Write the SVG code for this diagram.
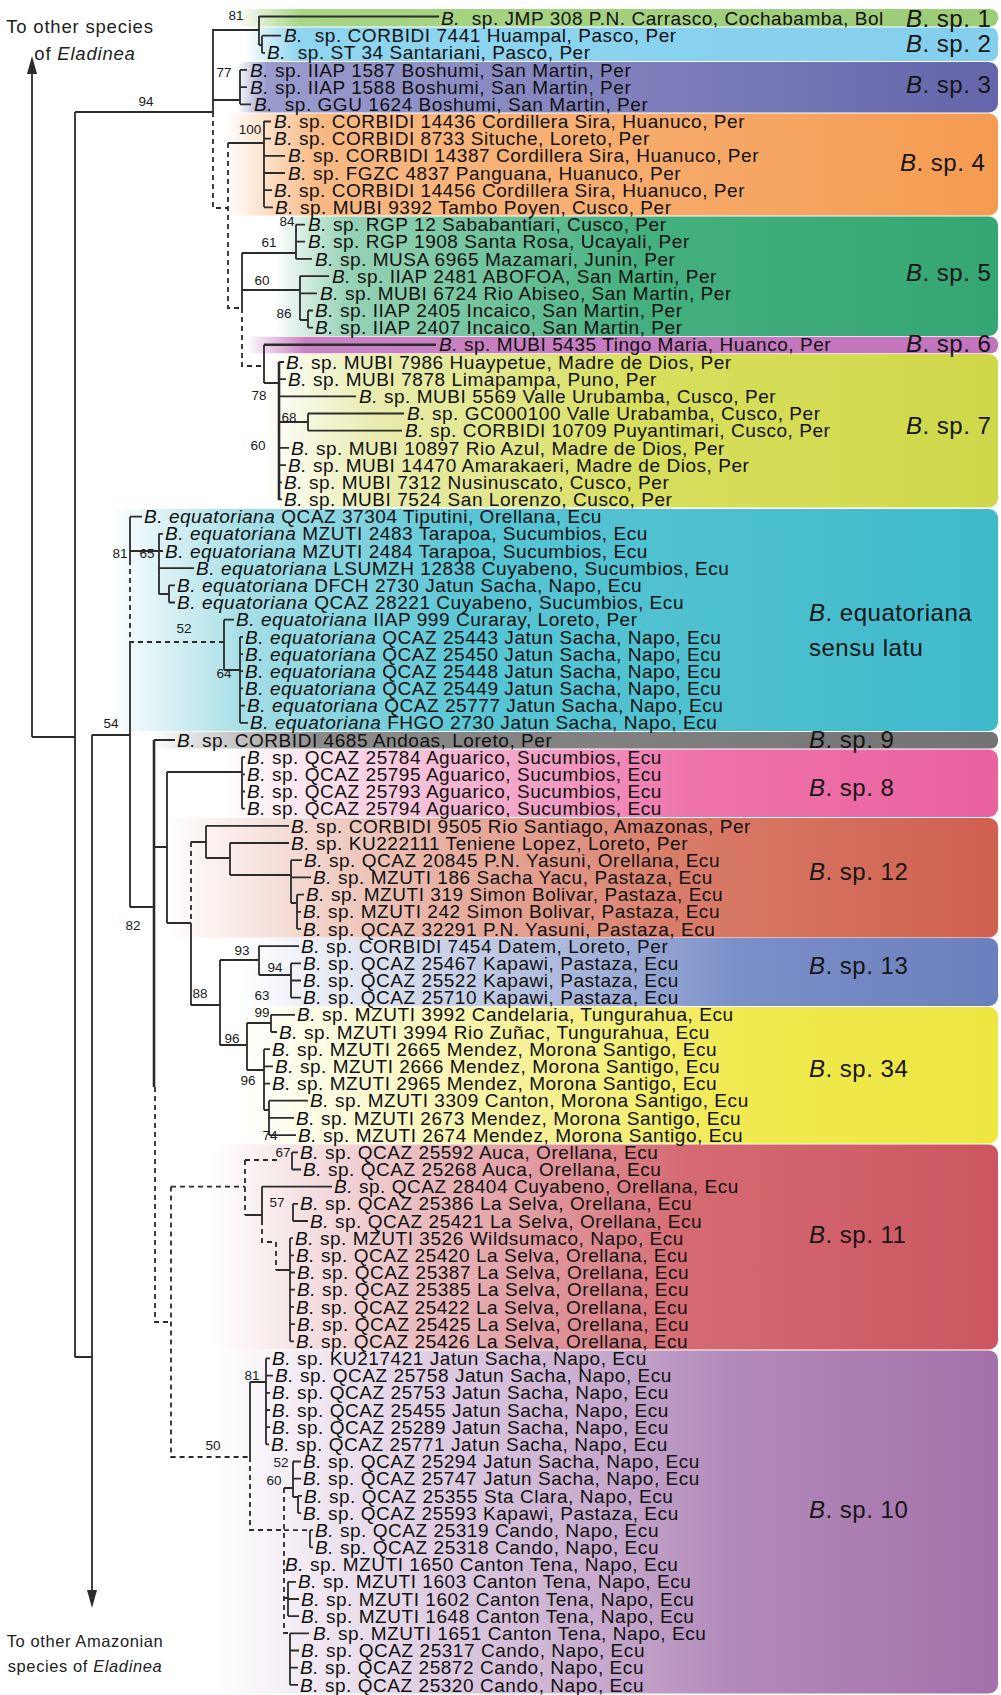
<svg xmlns="http://www.w3.org/2000/svg" width="1001" height="1695" viewBox="0 0 1001 1695">
<style>
.t{font-family:"Liberation Sans",Arial,sans-serif;font-size:19px;letter-spacing:0.55px;fill:#111}
.i{font-style:italic}
.g{font-family:"Liberation Sans",Arial,sans-serif;font-size:24px;letter-spacing:0.5px;fill:#151515}
.b{font-family:"Liberation Sans",Arial,sans-serif;font-size:13.5px;fill:#1a1a1a;text-anchor:middle}
.c{font-family:"Liberation Sans",Arial,sans-serif;font-size:18.5px;letter-spacing:0.8px;fill:#222;text-anchor:middle}
.c2{font-family:"Liberation Sans",Arial,sans-serif;font-size:16.5px;letter-spacing:0.6px;fill:#222;text-anchor:middle}
.s{fill:none;stroke:#2b2b2b;stroke-width:1.8}
.k{fill:none;stroke:#2b2b2b;stroke-width:2.6}
.d{fill:none;stroke:#2b2b2b;stroke-width:1.8;stroke-dasharray:5 4}
</style>
<defs>
<linearGradient id="g1" gradientUnits="userSpaceOnUse" x1="235" x2="1000" y1="0" y2="0"><stop offset="0" stop-color="#a9d585" stop-opacity="0"/><stop offset="0.085" stop-color="#a9d585"/><stop offset="1" stop-color="#9ccc78"/></linearGradient>
<linearGradient id="g2" gradientUnits="userSpaceOnUse" x1="245" x2="1000" y1="0" y2="0"><stop offset="0" stop-color="#8fd5ef" stop-opacity="0"/><stop offset="0.07" stop-color="#8fd5ef"/><stop offset="1" stop-color="#84cfee"/></linearGradient>
<linearGradient id="g3" gradientUnits="userSpaceOnUse" x1="236" x2="1000" y1="0" y2="0"><stop offset="0" stop-color="#9a9bcd" stop-opacity="0"/><stop offset="0.04" stop-color="#9a9bcd"/><stop offset="1" stop-color="#6465aa"/></linearGradient>
<linearGradient id="g4" gradientUnits="userSpaceOnUse" x1="225" x2="1000" y1="0" y2="0"><stop offset="0" stop-color="#f7b176" stop-opacity="0"/><stop offset="0.12" stop-color="#f7b176" stop-opacity="0.9"/><stop offset="1" stop-color="#f59b50"/></linearGradient>
<linearGradient id="g5" gradientUnits="userSpaceOnUse" x1="275" x2="1000" y1="0" y2="0"><stop offset="0" stop-color="#7cc7a3" stop-opacity="0"/><stop offset="0.1" stop-color="#7cc7a3" stop-opacity="0.8"/><stop offset="0.5" stop-color="#45b07f"/><stop offset="1" stop-color="#34a673"/></linearGradient>
<linearGradient id="g6" gradientUnits="userSpaceOnUse" x1="245" x2="1000" y1="0" y2="0"><stop offset="0" stop-color="#c983c3" stop-opacity="0"/><stop offset="0.08" stop-color="#c983c3"/><stop offset="1" stop-color="#c273bd"/></linearGradient>
<linearGradient id="g7" gradientUnits="userSpaceOnUse" x1="265" x2="1000" y1="0" y2="0"><stop offset="0" stop-color="#e3e79a" stop-opacity="0"/><stop offset="0.15" stop-color="#e3e79a" stop-opacity="0.8"/><stop offset="0.5" stop-color="#d8df5e"/><stop offset="1" stop-color="#cfd84a"/></linearGradient>
<linearGradient id="g8" gradientUnits="userSpaceOnUse" x1="110" x2="1000" y1="0" y2="0"><stop offset="0" stop-color="#8fd6e0" stop-opacity="0"/><stop offset="0.15" stop-color="#8fd6e0" stop-opacity="0.8"/><stop offset="0.4" stop-color="#59c5d4"/><stop offset="1" stop-color="#3fbacb"/></linearGradient>
<linearGradient id="g9" gradientUnits="userSpaceOnUse" x1="150" x2="1000" y1="0" y2="0"><stop offset="0" stop-color="#8a8a8a" stop-opacity="0"/><stop offset="0.2" stop-color="#8a8a8a"/><stop offset="1" stop-color="#737373"/></linearGradient>
<linearGradient id="g10" gradientUnits="userSpaceOnUse" x1="225" x2="1000" y1="0" y2="0"><stop offset="0" stop-color="#f2a2c6" stop-opacity="0"/><stop offset="0.3" stop-color="#f2a2c6" stop-opacity="0.8"/><stop offset="0.6" stop-color="#ee73aa"/><stop offset="1" stop-color="#ea62a0"/></linearGradient>
<linearGradient id="g11" gradientUnits="userSpaceOnUse" x1="165" x2="1000" y1="0" y2="0"><stop offset="0" stop-color="#e3a494" stop-opacity="0"/><stop offset="0.3" stop-color="#e3a494" stop-opacity="0.8"/><stop offset="0.6" stop-color="#d97d6a"/><stop offset="1" stop-color="#d0604f"/></linearGradient>
<linearGradient id="g12" gradientUnits="userSpaceOnUse" x1="240" x2="1000" y1="0" y2="0"><stop offset="0" stop-color="#a9b6da" stop-opacity="0"/><stop offset="0.35" stop-color="#a9b6da" stop-opacity="0.8"/><stop offset="0.65" stop-color="#7b90c8"/><stop offset="1" stop-color="#6a7fbd"/></linearGradient>
<linearGradient id="g13" gradientUnits="userSpaceOnUse" x1="240" x2="1000" y1="0" y2="0"><stop offset="0" stop-color="#f5f08e" stop-opacity="0"/><stop offset="0.35" stop-color="#f5f08e" stop-opacity="0.85"/><stop offset="0.65" stop-color="#f1ea50"/><stop offset="1" stop-color="#eee640"/></linearGradient>
<linearGradient id="g14" gradientUnits="userSpaceOnUse" x1="210" x2="1000" y1="0" y2="0"><stop offset="0" stop-color="#e0a0a5" stop-opacity="0"/><stop offset="0.3" stop-color="#e0a0a5" stop-opacity="0.8"/><stop offset="0.6" stop-color="#d56a72"/><stop offset="1" stop-color="#cb5660"/></linearGradient>
<linearGradient id="g15" gradientUnits="userSpaceOnUse" x1="215" x2="1000" y1="0" y2="0"><stop offset="0" stop-color="#d3bbd8" stop-opacity="0"/><stop offset="0.3" stop-color="#d3bbd8" stop-opacity="0.8"/><stop offset="0.65" stop-color="#b28bba"/><stop offset="1" stop-color="#a470aa"/></linearGradient>
</defs>
<rect width="1001" height="1695" fill="#fff"/>
<g id="bands">
<rect x="235" y="9" width="763" height="17.5" rx="8" fill="url(#g1)"/>
<rect x="245" y="27.5" width="753" height="33.5" rx="8" fill="url(#g2)"/>
<rect x="236" y="62" width="762" height="50.5" rx="9" fill="url(#g3)"/>
<rect x="225" y="113.5" width="773" height="102" rx="9" fill="url(#g4)"/>
<rect x="275" y="216.5" width="723" height="119.5" rx="9" fill="url(#g5)"/>
<rect x="245" y="336.7" width="753" height="16.5" rx="7" fill="url(#g6)"/>
<rect x="265" y="354" width="733" height="153.5" rx="9" fill="url(#g7)"/>
<rect x="110" y="509" width="888" height="222" rx="9" fill="url(#g8)"/>
<rect x="150" y="732" width="848" height="16.5" rx="7" fill="url(#g9)"/>
<rect x="225" y="749.5" width="773" height="67.5" rx="9" fill="url(#g10)"/>
<rect x="165" y="818" width="833" height="119.5" rx="9" fill="url(#g11)"/>
<rect x="240" y="938" width="758" height="68" rx="9" fill="url(#g12)"/>
<rect x="240" y="1007" width="758" height="136.5" rx="9" fill="url(#g13)"/>
<rect x="210" y="1144.5" width="788" height="205" rx="9" fill="url(#g14)"/>
<rect x="215" y="1350.5" width="783" height="343" rx="9" fill="url(#g15)"/>
</g>
<g id="connectors">
<path class="s" d="M32 737V72 M32 737H75 M75 112V1357 M75 112H213 M75 1357H92 M92 735V1592 M92 735H130"/>
<polygon points="32,56 27,74 37,74" fill="#2b2b2b"/>
<polygon points="92,1608 87,1590 97,1590" fill="#2b2b2b"/>
<path class="s" d="M213 112V30H259 M259 16V45 M259 45H262 M262 36V53 M262 35.6H281 M262 52.8H265"/>
<path class="s" style="stroke-width:2.2" d="M259 16.5H439"/>
<path class="s" d="M213 100H240 M240 70V104 M240 69.9H247 M240 87.1H247 M240 104.3H251"/>
<path class="s" d="M228 143H264 M264 121V207 M264 121.5H271 M264 138.7H271 M264 155.8H285 M264 173H285 M264 190.2H272 M264 207.4H273"/>
<path class="s" d="M242 253V308 M242 253H296 M296 224.6V259 M296 224.6H305 M296 241.7H305 M296 258.9H312 M242 290H300 M300 276V320 M300 276.1H329 M300 293.3H317 M300 320H308 M308 310.5V327.6 M308 310.5H313 M308 327.6H313"/>
<path class="s" d="M264 344.8V383 M264 383H279 M279 362H284 M279 379.2H286 M279 396.4H356 M279 422H308 M308 413.5V430.7 M308 413.5H404 M308 430.7H402 M279 447.9H289 M279 465.1H286 M279 482.3H282 M279 499.4H282"/>
<path class="k" d="M264 344.8H436 M279 362V500"/>
<path class="s" d="M130 517V560 M130 642V907 M130 516.6H142 M130 551H159 M159 533.8V594 M159 533.8H163 M159 551H163 M159 568.2H194 M159 594H169 M169 585.3V602.5 M169 585.3H175 M169 602.5H175 M224 619.7V670 M224 619.7H234 M224 670H240 M240 636.9V722.8 M240 636.9H243 M240 654.1H243 M240 671.2H243 M240 688.4H243 M240 705.6H245 M240 722.8H248"/>
<path class="s" d="M130 907H154 M154 740H175 M154 847H167 M167 772V923 M167 772H242 M242 757.1V808.7 M242 757.1H245 M242 774.3H245 M242 791.5H245 M242 808.7H245 M167 923H191 M191 923V1005 M191 1005H220"/>
<path class="k" d="M154 740V1087"/>
<path class="s" d="M191 842H206 M206 825.9V858 M206 825.9H289 M206 858H230 M230 843V875 M230 843H289 M230 875H291 M291 860.2V903 M291 860.2H302 M291 877.4H311 M291 903H297 M297 894.6V928.9 M297 894.6H304 M297 911.8H301 M297 928.9H301"/>
<path class="s" d="M220 960V1045 M220 960H259 M259 946.1V975 M259 946.1H299 M259 975H291 M291 963.3V997.7 M291 963.3H301 M291 980.5H301 M291 997.7H301 M220 1045H247 M247 1023V1070 M247 1023H271 M271 1014.8V1032 M271 1014.8H295 M271 1032H277 M247 1070H264 M264 1049.2V1110 M264 1049.2H270 M264 1066.4H273 M264 1083.6H270 M264 1110H269 M269 1100.7V1135.1 M269 1100.7H308 M269 1117.9H294 M269 1135.1H296"/>
<path class="s" d="M262 1186.6V1220 M262 1186.6H332 M245 1215H262 M292 1152.3V1169.5 M292 1152.3H298 M292 1169.5H301 M293 1203.8V1221 M293 1203.8H298 M293 1221H308 M290 1238.2V1341.3 M276 1270H290 M290 1238.2H293 M290 1255.4H294 M290 1272.5H295 M290 1289.7H295 M290 1306.9H294 M290 1324.1H295 M290 1341.3H294"/>
<path class="s" d="M250 1382V1457 M250 1382H266 M266 1358.4V1444.3 M266 1358.4H270 M266 1375.6H273 M266 1392.8H270 M266 1410H270 M266 1427.2H270 M266 1444.3H269 M284 1488H293 M293 1461.5V1497 M293 1461.5H301 M293 1478.7H301 M293 1497H298 M298 1495.9V1513.1 M298 1495.9H302 M298 1513.1H301 M310 1530.2V1547.4 M310 1530.2H313 M310 1547.4H313 M290 1633.3V1684.9 M290 1633.3H309 M290 1650.5H299 M290 1667.7H298 M290 1684.9H298 M288 1581.8V1616.1 M288 1581.8H296 M288 1599H299 M288 1616.1H299"/>
<path class="d" d="M213 112V208H228 M228 143V308H242 M242 308V366H264 M130 560V642H224 M191 842V923 M155 1087V1322H171 M171 1186.6V1457H250 M171 1186.6H245 M245 1160V1215 M245 1160H278 M262 1220V1242H276V1270 M250 1457V1530H284 M284 1488V1633H290 M284 1530.2H310 M284 1564.6H283 M284 1598H288"/>
</g>
<g id="support">
<text class="b" x="236" y="20">81</text>
<text class="b" x="146" y="106">94</text>
<text class="b" x="224" y="77">77</text>
<text class="b" x="250" y="134">100</text>
<text class="b" x="287" y="226">84</text>
<text class="b" x="269" y="247">61</text>
<text class="b" x="262" y="285">60</text>
<text class="b" x="284" y="318">86</text>
<text class="b" x="259" y="400">78</text>
<text class="b" x="289" y="422">68</text>
<text class="b" x="258" y="450">60</text>
<text class="b" x="120" y="558">81</text>
<text class="b" x="147" y="558">65</text>
<text class="b" x="184" y="633">52</text>
<text class="b" x="224" y="678">64</text>
<text class="b" x="111" y="728">54</text>
<text class="b" x="133" y="930">82</text>
<text class="b" x="242" y="955">93</text>
<text class="b" x="275" y="972">94</text>
<text class="b" x="262" y="1000">63</text>
<text class="b" x="200" y="998">88</text>
<text class="b" x="262" y="1017">99</text>
<text class="b" x="232" y="1043">96</text>
<text class="b" x="248" y="1085">96</text>
<text class="b" x="270" y="1140">74</text>
<text class="b" x="283" y="1157">67</text>
<text class="b" x="277" y="1207">57</text>
<text class="b" x="252" y="1380">81</text>
<text class="b" x="213" y="1450">50</text>
<text class="b" x="281" y="1467">52</text>
<text class="b" x="274" y="1485">60</text>
</g>
<g id="outgroups">
<text class="c" x="80" y="33">To other species</text>
<text class="c" x="85" y="60">of <tspan class="i">Eladinea</tspan></text>
<text class="c2" x="85" y="1647">To other Amazonian</text>
<text class="c2" x="85" y="1672">species of <tspan class="i">Eladinea</tspan></text>
</g>
<g id="clade-labels">
<text class="g" x="906" y="27"><tspan class="i">B</tspan>. sp. 1</text>
<text class="g" x="906" y="52"><tspan class="i">B</tspan>. sp. 2</text>
<text class="g" x="906" y="93"><tspan class="i">B</tspan>. sp. 3</text>
<text class="g" x="900" y="171"><tspan class="i">B</tspan>. sp. 4</text>
<text class="g" x="906" y="281"><tspan class="i">B</tspan>. sp. 5</text>
<text class="g" x="906" y="352"><tspan class="i">B</tspan>. sp. 6</text>
<text class="g" x="906" y="434"><tspan class="i">B</tspan>. sp. 7</text>
<text class="g" x="809" y="621"><tspan class="i">B</tspan>. equatoriana</text>
<text class="g" x="809" y="656">sensu latu</text>
<text class="g" x="809" y="748"><tspan class="i">B</tspan>. sp. 9</text>
<text class="g" x="809" y="796"><tspan class="i">B</tspan>. sp. 8</text>
<text class="g" x="809" y="880"><tspan class="i">B</tspan>. sp. 12</text>
<text class="g" x="809" y="974"><tspan class="i">B</tspan>. sp. 13</text>
<text class="g" x="809" y="1077"><tspan class="i">B</tspan>. sp. 34</text>
<text class="g" x="809" y="1243"><tspan class="i">B</tspan>. sp. 11</text>
<text class="g" x="809" y="1518"><tspan class="i">B</tspan>. sp. 10</text>
</g>
<g id="tips">
<g id="n00"><text class="t" x="441" y="25"><tspan class="i">B.</tspan>&#160; sp. JMP 308 P.N. Carrasco, Cochabamba, Bol</text></g>
<g id="n01"><text class="t" x="284" y="42.2"><tspan class="i">B.</tspan>&#160; sp. CORBIDI 7441 Huampal, Pasco, Per</text></g>
<g id="n02"><text class="t" x="267" y="59.4"><tspan class="i">B.</tspan>&#160; sp. ST 34 Santariani, Pasco, Per</text></g>
<g id="n03"><text class="t" x="250" y="76.5"><tspan class="i">B.</tspan> sp. IIAP 1587 Boshumi, San Martin, Per</text></g>
<g id="n04"><text class="t" x="250" y="93.7"><tspan class="i">B.</tspan> sp. IIAP 1588 Boshumi, San Martin, Per</text></g>
<g id="n05"><text class="t" x="254" y="110.9"><tspan class="i">B.</tspan>&#160; sp. GGU 1624 Boshumi, San Martin, Per</text></g>
<g id="n06"><text class="t" x="274" y="128.1"><tspan class="i">B.</tspan> sp. CORBIDI 14436 Cordillera Sira, Huanuco, Per</text></g>
<g id="n07"><text class="t" x="274" y="145.3"><tspan class="i">B.</tspan> sp. CORBIDI 8733 Situche, Loreto, Per</text></g>
<g id="n08"><text class="t" x="288" y="162.4"><tspan class="i">B.</tspan> sp. CORBIDI 14387 Cordillera Sira, Huanuco, Per</text></g>
<g id="n09"><text class="t" x="288" y="179.6"><tspan class="i">B.</tspan> sp. FGZC 4837 Panguana, Huanuco, Per</text></g>
<g id="n10"><text class="t" x="274" y="196.8"><tspan class="i">B.</tspan> sp. CORBIDI 14456 Cordillera Sira, Huanuco, Per</text></g>
<g id="n11"><text class="t" x="275" y="214"><tspan class="i">B.</tspan> sp. MUBI 9392 Tambo Poyen, Cusco, Per</text></g>
<g id="n12"><text class="t" x="308" y="231.2"><tspan class="i">B.</tspan> sp. RGP 12 Sababantiari, Cusco, Per</text></g>
<g id="n13"><text class="t" x="308" y="248.3"><tspan class="i">B.</tspan> sp. RGP 1908 Santa Rosa, Ucayali, Per</text></g>
<g id="n14"><text class="t" x="315" y="265.5"><tspan class="i">B.</tspan> sp. MUSA 6965 Mazamari, Junin, Per</text></g>
<g id="n15"><text class="t" x="332" y="282.7"><tspan class="i">B.</tspan> sp. IIAP 2481 ABOFOA, San Martin, Per</text></g>
<g id="n16"><text class="t" x="320" y="299.9"><tspan class="i">B.</tspan> sp. MUBI 6724 Rio Abiseo, San Martin, Per</text></g>
<g id="n17"><text class="t" x="315" y="317.1"><tspan class="i">B.</tspan> sp. IIAP 2405 Incaico, San Martin, Per</text></g>
<g id="n18"><text class="t" x="315" y="334.2"><tspan class="i">B.</tspan> sp. IIAP 2407 Incaico, San Martin, Per</text></g>
<g id="n19"><text class="t" x="439" y="351.4"><tspan class="i">B.</tspan> sp. MUBI 5435 Tingo Maria, Huanco, Per</text></g>
<g id="n20"><text class="t" x="286" y="368.6"><tspan class="i">B.</tspan> sp. MUBI 7986 Huaypetue, Madre de Dios, Per</text></g>
<g id="n21"><text class="t" x="288" y="385.8"><tspan class="i">B.</tspan> sp. MUBI 7878 Limapampa, Puno, Per</text></g>
<g id="n22"><text class="t" x="359" y="403"><tspan class="i">B.</tspan> sp. MUBI 5569 Valle Urubamba, Cusco, Per</text></g>
<g id="n23"><text class="t" x="407" y="420.1"><tspan class="i">B.</tspan> sp. GC000100 Valle Urabamba, Cusco, Per</text></g>
<g id="n24"><text class="t" x="405" y="437.3"><tspan class="i">B.</tspan> sp. CORBIDI 10709 Puyantimari, Cusco, Per</text></g>
<g id="n25"><text class="t" x="291" y="454.5"><tspan class="i">B.</tspan> sp. MUBI 10897 Rio Azul, Madre de Dios, Per</text></g>
<g id="n26"><text class="t" x="288" y="471.7"><tspan class="i">B.</tspan> sp. MUBI 14470 Amarakaeri, Madre de Dios, Per</text></g>
<g id="n27"><text class="t" x="284" y="488.9"><tspan class="i">B.</tspan> sp. MUBI 7312 Nusinuscato, Cusco, Per</text></g>
<g id="n28"><text class="t" x="284" y="506"><tspan class="i">B.</tspan> sp. MUBI 7524 San Lorenzo, Cusco, Per</text></g>
<g id="n29"><text class="t" x="144" y="523.2"><tspan class="i">B. equatoriana</tspan> QCAZ 37304 Tiputini, Orellana, Ecu</text></g>
<g id="n30"><text class="t" x="165" y="540.4"><tspan class="i">B. equatoriana</tspan> MZUTI 2483 Tarapoa, Sucumbios, Ecu</text></g>
<g id="n31"><text class="t" x="165" y="557.6"><tspan class="i">B. equatoriana</tspan> MZUTI 2484 Tarapoa, Sucumbios, Ecu</text></g>
<g id="n32"><text class="t" x="196" y="574.8"><tspan class="i">B. equatoriana</tspan> LSUMZH 12838 Cuyabeno, Sucumbios, Ecu</text></g>
<g id="n33"><text class="t" x="177" y="591.9"><tspan class="i">B. equatoriana</tspan> DFCH 2730 Jatun Sacha, Napo, Ecu</text></g>
<g id="n34"><text class="t" x="177" y="609.1"><tspan class="i">B. equatoriana</tspan> QCAZ 28221 Cuyabeno, Sucumbios, Ecu</text></g>
<g id="n35"><text class="t" x="236" y="626.3"><tspan class="i">B. equatoriana</tspan> IIAP 999 Curaray, Loreto, Per</text></g>
<g id="n36"><text class="t" x="245" y="643.5"><tspan class="i">B. equatoriana</tspan> QCAZ 25443 Jatun Sacha, Napo, Ecu</text></g>
<g id="n37"><text class="t" x="245" y="660.7"><tspan class="i">B. equatoriana</tspan> QCAZ 25450 Jatun Sacha, Napo, Ecu</text></g>
<g id="n38"><text class="t" x="245" y="677.8"><tspan class="i">B. equatoriana</tspan> QCAZ 25448 Jatun Sacha, Napo, Ecu</text></g>
<g id="n39"><text class="t" x="245" y="695"><tspan class="i">B. equatoriana</tspan> QCAZ 25449 Jatun Sacha, Napo, Ecu</text></g>
<g id="n40"><text class="t" x="247" y="712.2"><tspan class="i">B. equatoriana</tspan> QCAZ 25777 Jatun Sacha, Napo, Ecu</text></g>
<g id="n41"><text class="t" x="250" y="729.4"><tspan class="i">B. equatoriana</tspan> FHGO 2730 Jatun Sacha, Napo, Ecu</text></g>
<g id="n42"><text class="t" x="177" y="746.6"><tspan class="i">B.</tspan> sp. CORBIDI 4685 Andoas, Loreto, Per</text></g>
<g id="n43"><text class="t" x="247" y="763.7"><tspan class="i">B.</tspan> sp. QCAZ 25784 Aguarico, Sucumbios, Ecu</text></g>
<g id="n44"><text class="t" x="247" y="780.9"><tspan class="i">B.</tspan> sp. QCAZ 25795 Aguarico, Sucumbios, Ecu</text></g>
<g id="n45"><text class="t" x="247" y="798.1"><tspan class="i">B.</tspan> sp. QCAZ 25793 Aguarico, Sucumbios, Ecu</text></g>
<g id="n46"><text class="t" x="247" y="815.3"><tspan class="i">B.</tspan> sp. QCAZ 25794 Aguarico, Sucumbios, Ecu</text></g>
<g id="n47"><text class="t" x="291" y="832.5"><tspan class="i">B.</tspan> sp. CORBIDI 9505 Rio Santiago, Amazonas, Per</text></g>
<g id="n48"><text class="t" x="291" y="849.6"><tspan class="i">B.</tspan> sp. KU222111 Teniene Lopez, Loreto, Per</text></g>
<g id="n49"><text class="t" x="304" y="866.8"><tspan class="i">B.</tspan> sp. QCAZ 20845 P.N. Yasuni, Orellana, Ecu</text></g>
<g id="n50"><text class="t" x="313" y="884"><tspan class="i">B.</tspan> sp. MZUTI 186 Sacha Yacu, Pastaza, Ecu</text></g>
<g id="n51"><text class="t" x="306" y="901.2"><tspan class="i">B.</tspan> sp. MZUTI 319 Simon Bolivar, Pastaza, Ecu</text></g>
<g id="n52"><text class="t" x="303" y="918.4"><tspan class="i">B.</tspan> sp. MZUTI 242 Simon Bolivar, Pastaza, Ecu</text></g>
<g id="n53"><text class="t" x="303" y="935.5"><tspan class="i">B.</tspan> sp. QCAZ 32291 P.N. Yasuni, Pastaza, Ecu</text></g>
<g id="n54"><text class="t" x="301" y="952.7"><tspan class="i">B.</tspan> sp. CORBIDI 7454 Datem, Loreto, Per</text></g>
<g id="n55"><text class="t" x="303" y="969.9"><tspan class="i">B.</tspan> sp. QCAZ 25467 Kapawi, Pastaza, Ecu</text></g>
<g id="n56"><text class="t" x="303" y="987.1"><tspan class="i">B.</tspan> sp. QCAZ 25522 Kapawi, Pastaza, Ecu</text></g>
<g id="n57"><text class="t" x="303" y="1004.3"><tspan class="i">B.</tspan> sp. QCAZ 25710 Kapawi, Pastaza, Ecu</text></g>
<g id="n58"><text class="t" x="297" y="1021.4"><tspan class="i">B.</tspan> sp. MZUTI 3992 Candelaria, Tungurahua, Ecu</text></g>
<g id="n59"><text class="t" x="279" y="1038.6"><tspan class="i">B.</tspan> sp. MZUTI 3994 Rio Zuñac, Tungurahua, Ecu</text></g>
<g id="n60"><text class="t" x="272" y="1055.8"><tspan class="i">B.</tspan> sp. MZUTI 2665 Mendez, Morona Santigo, Ecu</text></g>
<g id="n61"><text class="t" x="275" y="1073"><tspan class="i">B.</tspan> sp. MZUTI 2666 Mendez, Morona Santigo, Ecu</text></g>
<g id="n62"><text class="t" x="272" y="1090.2"><tspan class="i">B.</tspan> sp. MZUTI 2965 Mendez, Morona Santigo, Ecu</text></g>
<g id="n63"><text class="t" x="310" y="1107.3"><tspan class="i">B.</tspan> sp. MZUTI 3309 Canton, Morona Santigo, Ecu</text></g>
<g id="n64"><text class="t" x="296" y="1124.5"><tspan class="i">B.</tspan> sp. MZUTI 2673 Mendez, Morona Santigo, Ecu</text></g>
<g id="n65"><text class="t" x="298" y="1141.7"><tspan class="i">B.</tspan> sp. MZUTI 2674 Mendez, Morona Santigo, Ecu</text></g>
<g id="n66"><text class="t" x="300" y="1158.9"><tspan class="i">B.</tspan> sp. QCAZ 25592 Auca, Orellana, Ecu</text></g>
<g id="n67"><text class="t" x="303" y="1176.1"><tspan class="i">B.</tspan> sp. QCAZ 25268 Auca, Orellana, Ecu</text></g>
<g id="n68"><text class="t" x="334" y="1193.2"><tspan class="i">B.</tspan> sp. QCAZ 28404 Cuyabeno, Orellana, Ecu</text></g>
<g id="n69"><text class="t" x="300" y="1210.4"><tspan class="i">B.</tspan> sp. QCAZ 25386 La Selva, Orellana, Ecu</text></g>
<g id="n70"><text class="t" x="310" y="1227.6"><tspan class="i">B.</tspan> sp. QCAZ 25421 La Selva, Orellana, Ecu</text></g>
<g id="n71"><text class="t" x="295" y="1244.8"><tspan class="i">B.</tspan> sp. MZUTI 3526 Wildsumaco, Napo, Ecu</text></g>
<g id="n72"><text class="t" x="296" y="1262"><tspan class="i">B.</tspan> sp. QCAZ 25420 La Selva, Orellana, Ecu</text></g>
<g id="n73"><text class="t" x="297" y="1279.1"><tspan class="i">B.</tspan> sp. QCAZ 25387 La Selva, Orellana, Ecu</text></g>
<g id="n74"><text class="t" x="297" y="1296.3"><tspan class="i">B.</tspan> sp. QCAZ 25385 La Selva, Orellana, Ecu</text></g>
<g id="n75"><text class="t" x="296" y="1313.5"><tspan class="i">B.</tspan> sp. QCAZ 25422 La Selva, Orellana, Ecu</text></g>
<g id="n76"><text class="t" x="297" y="1330.7"><tspan class="i">B.</tspan> sp. QCAZ 25425 La Selva, Orellana, Ecu</text></g>
<g id="n77"><text class="t" x="296" y="1347.9"><tspan class="i">B.</tspan> sp. QCAZ 25426 La Selva, Orellana, Ecu</text></g>
<g id="n78"><text class="t" x="272" y="1365"><tspan class="i">B.</tspan> sp. KU217421 Jatun Sacha, Napo, Ecu</text></g>
<g id="n79"><text class="t" x="275" y="1382.2"><tspan class="i">B.</tspan> sp. QCAZ 25758 Jatun Sacha, Napo, Ecu</text></g>
<g id="n80"><text class="t" x="272" y="1399.4"><tspan class="i">B.</tspan> sp. QCAZ 25753 Jatun Sacha, Napo, Ecu</text></g>
<g id="n81"><text class="t" x="272" y="1416.6"><tspan class="i">B.</tspan> sp. QCAZ 25455 Jatun Sacha, Napo, Ecu</text></g>
<g id="n82"><text class="t" x="272" y="1433.8"><tspan class="i">B.</tspan> sp. QCAZ 25289 Jatun Sacha, Napo, Ecu</text></g>
<g id="n83"><text class="t" x="271" y="1450.9"><tspan class="i">B.</tspan> sp. QCAZ 25771 Jatun Sacha, Napo, Ecu</text></g>
<g id="n84"><text class="t" x="303" y="1468.1"><tspan class="i">B.</tspan> sp. QCAZ 25294 Jatun Sacha, Napo, Ecu</text></g>
<g id="n85"><text class="t" x="303" y="1485.3"><tspan class="i">B.</tspan> sp. QCAZ 25747 Jatun Sacha, Napo, Ecu</text></g>
<g id="n86"><text class="t" x="304" y="1502.5"><tspan class="i">B.</tspan> sp. QCAZ 25355 Sta Clara, Napo, Ecu</text></g>
<g id="n87"><text class="t" x="303" y="1519.7"><tspan class="i">B.</tspan> sp. QCAZ 25593 Kapawi, Pastaza, Ecu</text></g>
<g id="n88"><text class="t" x="315" y="1536.8"><tspan class="i">B.</tspan> sp. QCAZ 25319 Cando, Napo, Ecu</text></g>
<g id="n89"><text class="t" x="315" y="1554"><tspan class="i">B.</tspan> sp. QCAZ 25318 Cando, Napo, Ecu</text></g>
<g id="n90"><text class="t" x="285" y="1571.2"><tspan class="i">B.</tspan> sp. MZUTI 1650 Canton Tena, Napo, Ecu</text></g>
<g id="n91"><text class="t" x="298" y="1588.4"><tspan class="i">B.</tspan> sp. MZUTI 1603 Canton Tena, Napo, Ecu</text></g>
<g id="n92"><text class="t" x="301" y="1605.6"><tspan class="i">B.</tspan> sp. MZUTI 1602 Canton Tena, Napo, Ecu</text></g>
<g id="n93"><text class="t" x="301" y="1622.7"><tspan class="i">B.</tspan> sp. MZUTI 1648 Canton Tena, Napo, Ecu</text></g>
<g id="n94"><text class="t" x="313" y="1639.9"><tspan class="i">B.</tspan> sp. MZUTI 1651 Canton Tena, Napo, Ecu</text></g>
<g id="n95"><text class="t" x="301" y="1657.1"><tspan class="i">B.</tspan> sp. QCAZ 25317 Cando, Napo, Ecu</text></g>
<g id="n96"><text class="t" x="300" y="1674.3"><tspan class="i">B.</tspan> sp. QCAZ 25872 Cando, Napo, Ecu</text></g>
<g id="n97"><text class="t" x="300" y="1691.5"><tspan class="i">B.</tspan> sp. QCAZ 25320 Cando, Napo, Ecu</text></g>
</g>
</svg>
